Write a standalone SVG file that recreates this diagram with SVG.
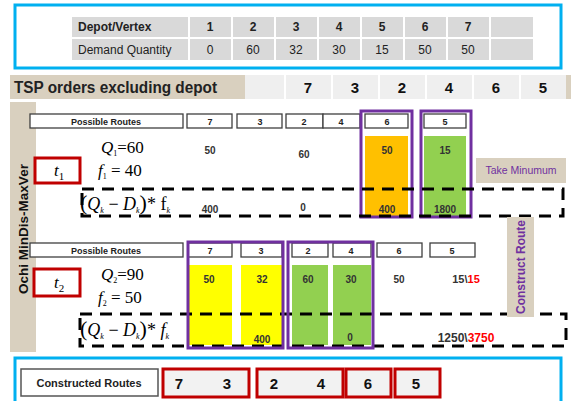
<svg xmlns="http://www.w3.org/2000/svg" width="571" height="401" viewBox="0 0 571 401">
  <style>
    .sans { font-family: "Liberation Sans", Arial, sans-serif; }
    .math { font-family: "Liberation Serif", "Times New Roman", serif; font-style: italic; }
    .blue { fill: none; stroke: #00b0f0; stroke-width: 3; }
    .cell { fill: #d9d9d9; }
    .tsp { fill: #efefef; }
    .beige { fill: #d9d0bf; }
    .hdr { fill: #ffffff; stroke: #3f3f3f; stroke-width: 1.3; }
    .hdrt { font-family: "Liberation Sans", Arial, sans-serif; font-size: 9px; font-weight: bold; fill: #222; text-anchor: middle; }
    .val { font-family: "Liberation Sans", Arial, sans-serif; font-size: 10px; font-weight: bold; fill: #333; text-anchor: middle; }
    .red { fill: #ffffff; stroke: #c00000; stroke-width: 3; }
    .redl { fill: #f2f2f2; stroke: #c00000; stroke-width: 3; }
    .purple { fill: none; stroke: #7030a0; stroke-width: 3; }
    .dash { fill: none; stroke: #000; stroke-width: 3; stroke-dasharray: 12 8; }
    .big { font-family: "Liberation Sans", Arial, sans-serif; font-size: 15px; font-weight: bold; fill: #111; text-anchor: middle; }
  </style>

  <!-- demand table -->
  <g id="demand-table">
    <rect class="blue" x="15" y="5" width="546" height="63"/>
    <g class="cell">
      <rect x="72" y="17" width="116" height="20"/>
      <rect x="190" y="17" width="41" height="20"/>
      <rect x="233" y="17" width="41" height="20"/>
      <rect x="276" y="17" width="41" height="20"/>
      <rect x="319" y="17" width="41" height="20"/>
      <rect x="362" y="17" width="41" height="20"/>
      <rect x="405" y="17" width="41" height="20"/>
      <rect x="448" y="17" width="41" height="20"/>
      <rect x="491" y="17" width="42" height="20"/>
      <rect x="72" y="39" width="116" height="21"/>
      <rect x="190" y="39" width="41" height="21"/>
      <rect x="233" y="39" width="41" height="21"/>
      <rect x="276" y="39" width="41" height="21"/>
      <rect x="319" y="39" width="41" height="21"/>
      <rect x="362" y="39" width="41" height="21"/>
      <rect x="405" y="39" width="41" height="21"/>
      <rect x="448" y="39" width="41" height="21"/>
      <rect x="491" y="39" width="42" height="21"/>
    </g>
    <g class="sans" font-size="12" fill="#222">
      <text x="78" y="31" font-weight="bold">Depot/Vertex</text>
      <g font-weight="bold" text-anchor="middle">
        <text x="210" y="31">1</text><text x="253" y="31">2</text><text x="296" y="31">3</text>
        <text x="339" y="31">4</text><text x="382" y="31">5</text><text x="425" y="31">6</text>
        <text x="468" y="31">7</text>
      </g>
      <text x="78" y="54">Demand Quantity</text>
      <g text-anchor="middle">
        <text x="210" y="54">0</text><text x="253" y="54">60</text><text x="296" y="54">32</text>
        <text x="339" y="54">30</text><text x="382" y="54">15</text><text x="425" y="54">50</text>
        <text x="468" y="54">50</text>
      </g>
    </g>
  </g>

  <!-- TSP order band -->
  <g id="tsp-order">
    <rect class="beige" x="10" y="75" width="235" height="24"/>
    <rect class="tsp" x="245" y="75" width="321" height="24"/>
    <rect class="beige" x="566" y="75" width="5" height="24"/>
    <g stroke="#ffffff" stroke-width="2">
      <line x1="285" y1="75" x2="285" y2="99"/><line x1="332" y1="75" x2="332" y2="99"/>
      <line x1="379" y1="75" x2="379" y2="99"/><line x1="426" y1="75" x2="426" y2="99"/>
      <line x1="473" y1="75" x2="473" y2="99"/><line x1="520" y1="75" x2="520" y2="99"/>
    </g>
    <text class="sans" x="14" y="93" font-size="16" font-weight="bold" fill="#222" textLength="203" lengthAdjust="spacingAndGlyphs">TSP orders excluding depot</text>
    <text class="big" x="308" y="93">7</text><text class="big" x="355" y="93">3</text>
    <text class="big" x="402" y="93">2</text><text class="big" x="449" y="93">4</text>
    <text class="big" x="496" y="93">6</text><text class="big" x="543" y="93">5</text>
  </g>

  <!-- side label -->
  <g id="side-label">
    <rect class="beige" x="10" y="102" width="26" height="250"/>
    <text class="sans" transform="translate(28,229) rotate(-90)" font-size="13.5" font-weight="bold" fill="#111" text-anchor="middle">Ochi MinDis-MaxVer</text>
  </g>

  <!-- iteration t1 -->
  <g id="iteration-t1">
    <rect x="365" y="136" width="43" height="80" fill="#ffc000"/>
    <rect x="424" y="136" width="42" height="80" fill="#92d050"/>
    <rect class="hdr" x="30" y="114" width="153" height="14"/>
    <text class="hdrt" x="106" y="125">Possible Routes</text>
    <rect class="hdr" x="187" y="114" width="45" height="14"/><text class="hdrt" x="210" y="125">7</text>
    <rect class="hdr" x="237" y="114" width="45" height="14"/><text class="hdrt" x="260" y="125">3</text>
    <rect class="hdr" x="286" y="114" width="37" height="14"/><text class="hdrt" x="304" y="125">2</text>
    <rect class="hdr" x="323" y="114" width="37" height="14"/><text class="hdrt" x="341" y="125">4</text>
    <rect class="hdr" x="365" y="114" width="43" height="14"/><text class="hdrt" x="387" y="125">6</text>
    <rect class="hdr" x="424" y="114" width="42" height="14"/><text class="hdrt" x="445" y="125">5</text>
    <rect class="purple" x="361" y="111" width="51" height="106"/>
    <rect class="purple" x="421" y="111" width="50" height="106"/>

    <rect class="red" x="35" y="158" width="45" height="25"/>
    <text class="math" x="54" y="176" font-size="17">t<tspan font-size="11" dy="4" font-style="normal">1</tspan></text>
    <text class="math" x="101" y="153" font-size="17">Q<tspan font-size="8" dy="3" font-style="normal">1</tspan><tspan dy="-3" font-style="normal">=60</tspan></text>
    <text class="math" x="98" y="176" font-size="17">f<tspan font-size="8" dy="3" font-style="normal">1</tspan><tspan dy="-3" font-style="normal"> = 40</tspan></text>

    <text class="val" x="210" y="154">50</text>
    <text class="val" x="304" y="158">60</text>
    <text class="val" x="387" y="154">50</text>
    <text class="val" x="445" y="154">15</text>
    <text class="val" x="210" y="213">400</text>
    <text class="val" x="303" y="211">0</text>
    <text class="val" x="387" y="213">400</text>
    <text class="val" x="445" y="213">1800</text>

    <rect class="dash" x="82" y="189" width="481" height="27"/>
    <text class="math" x="80" y="210" font-size="18"><tspan font-style="normal" font-size="22">(</tspan>Q<tspan font-size="8" dy="3">k</tspan><tspan dy="-3" font-style="normal"> − </tspan>D<tspan font-size="8" dy="3">k</tspan><tspan dy="-3" font-style="normal" font-size="22">)</tspan><tspan font-style="normal">* f</tspan><tspan font-size="8" dy="3">k</tspan></text>

    <rect class="beige" x="476" y="158" width="90" height="25"/>
    <text class="sans" x="521" y="174" font-size="10.5" fill="#7030a0" text-anchor="middle">Take Minumum</text>
  </g>

  <!-- iteration t2 -->
  <g id="iteration-t2">
    <rect x="188" y="265" width="44" height="80" fill="#ffff00"/>
    <rect x="241" y="265" width="41" height="80" fill="#ffff00"/>
    <rect x="292" y="265" width="36" height="80" fill="#92d050"/>
    <rect x="333" y="265" width="38" height="80" fill="#92d050"/>
    <rect class="hdr" x="30" y="243" width="153" height="14"/>
    <text class="hdrt" x="106" y="254">Possible Routes</text>
    <rect class="hdr" x="188" y="243" width="44" height="14"/><text class="hdrt" x="210" y="254">7</text>
    <rect class="hdr" x="241" y="243" width="41" height="14"/><text class="hdrt" x="261" y="254">3</text>
    <rect class="hdr" x="292" y="243" width="36" height="14"/><text class="hdrt" x="308" y="254">2</text>
    <rect class="hdr" x="333" y="243" width="38" height="14"/><text class="hdrt" x="351" y="254">4</text>
    <rect class="hdr" x="377" y="243" width="45" height="14"/><text class="hdrt" x="399" y="254">6</text>
    <rect class="hdr" x="430" y="243" width="45" height="14"/><text class="hdrt" x="452" y="254">5</text>

    <rect class="red" x="34" y="269" width="46" height="27"/>
    <text class="math" x="54" y="288" font-size="17">t<tspan font-size="11" dy="4" font-style="normal">2</tspan></text>
    <text class="math" x="101" y="280" font-size="17">Q<tspan font-size="8" dy="3" font-style="normal">2</tspan><tspan dy="-3" font-style="normal">=90</tspan></text>
    <text class="math" x="98" y="303" font-size="17">f<tspan font-size="8" dy="3" font-style="normal">2</tspan><tspan dy="-3" font-style="normal"> = 50</tspan></text>

    <text class="val" x="209" y="283">50</text>
    <text class="val" x="262" y="283">32</text>
    <text class="val" x="308" y="283">60</text>
    <text class="val" x="351" y="283">30</text>
    <text class="val" x="399" y="283">50</text>
    <text class="val" x="466" y="283" style="font-size:11px">15\<tspan fill="#ff0000">15</tspan></text>
    <text class="val" x="262" y="343">400</text>
    <text class="val" x="350" y="341">0</text>
    <text class="val" x="466" y="342" style="font-size:12px">1250\<tspan fill="#ff0000">3750</tspan></text>

    <rect class="dash" x="80" y="314" width="486" height="32"/>
    <text class="math" x="80" y="336" font-size="18"><tspan font-style="normal" font-size="22">(</tspan>Q<tspan font-size="8" dy="3">k</tspan><tspan dy="-3" font-style="normal"> − </tspan>D<tspan font-size="8" dy="3">k</tspan><tspan dy="-3" font-style="normal" font-size="22">)</tspan><tspan font-style="normal">* </tspan>f<tspan font-size="8" dy="3">k</tspan></text>

    <rect class="purple" x="188" y="242" width="95" height="106"/>
    <rect class="purple" x="288" y="242" width="85" height="106"/>

    <rect class="beige" x="507" y="217" width="27" height="100"/>
    <text class="sans" transform="translate(525,267) rotate(-90)" font-size="12" font-weight="bold" fill="#7030a0" text-anchor="middle">Construct  Route</text>
  </g>

  <!-- constructed routes -->
  <g id="constructed-routes">
    <rect class="blue" x="15" y="358" width="546" height="50"/>
    <rect x="21" y="369" width="137" height="27" fill="#ffffff" stroke="#555" stroke-width="1.5"/>
    <text class="sans" x="89" y="387" font-size="11" font-weight="bold" fill="#222" text-anchor="middle">Constructed  Routes</text>
    <rect class="redl" x="163" y="369" width="86" height="28"/>
    <text class="big" x="179" y="389">7</text><text class="big" x="227" y="389">3</text>
    <rect class="redl" x="257" y="369" width="86" height="28"/>
    <text class="big" x="274" y="389">2</text><text class="big" x="321" y="389">4</text>
    <rect class="redl" x="346" y="369" width="45" height="28"/>
    <text class="big" x="368" y="389">6</text>
    <rect class="redl" x="395" y="369" width="45" height="28"/>
    <text class="big" x="416" y="389">5</text>
  </g>
</svg>
